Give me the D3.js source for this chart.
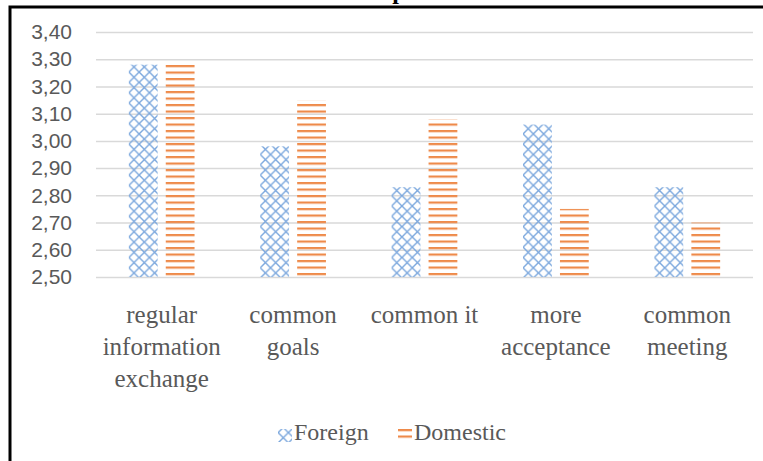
<!DOCTYPE html>
<html>
<head>
<meta charset="utf-8">
<script src="https://cdn.jsdelivr.net/npm/d3@7"></script>
<style>
  body { margin: 0; background: #fff; }
  svg { display: block; }
</style>
</head>
<body>
<div id="chart"></div>
<script>
// data
const categories = [
    ["regular", "information", "exchange"],
    ["common", "goals"],
    ["common it"],
    ["more", "acceptance"],
    ["common", "meeting"]
];
const seriesNames = ["Foreign", "Domestic"];
const foreign = [3.28, 2.98, 2.83, 3.06, 2.83];
const domestic = [3.29, 3.15, 3.08, 2.75, 2.70];
const yTicks = [2.5, 2.6, 2.7, 2.8, 2.9, 3.0, 3.1, 3.2, 3.3, 3.4];

const width = 763, height = 461;
const plotLeft = 96, plotRight = 753, plotTop = 32, plotBottom = 277;

const svg = d3.select("#chart")
    .append("svg")
    .attr("width", width)
    .attr("height", height);

// hatch patterns
const defs = svg.append("defs");

const cross = defs.append("pattern")
    .attr("id", "pat-foreign")
    .attr("patternUnits", "userSpaceOnUse")
    .attr("width", 10.3)
    .attr("height", 10.3);
cross.append("path")
    .attr("d", "M0,0L10.3,10.3M10.3,0L0,10.3")
    .attr("stroke", "#7ba7dd")
    .attr("stroke-width", 1.4)
    .attr("fill", "none");

const stripes = defs.append("pattern")
    .attr("id", "pat-domestic")
    .attr("patternUnits", "userSpaceOnUse")
    .attr("width", 10)
    .attr("height", 6.5);
stripes.append("rect")
    .attr("x", 0)
    .attr("y", 0)
    .attr("width", 10)
    .attr("height", 2.2)
    .attr("fill", "#ee8a4a");

const fills = ["url(#pat-foreign)", "url(#pat-domestic)"];

// frame (the picture is cropped from a bigger bordered figure)
svg.append("rect")
    .attr("x", 10)
    .attr("y", 7)
    .attr("width", 800)
    .attr("height", 500)
    .attr("fill", "none")
    .attr("stroke", "#000")
    .attr("stroke-width", 3);

// only the descender of the title survives the crop
svg.append("text")
    .attr("x", 399)
    .attr("y", -1)
    .attr("text-anchor", "middle")
    .style("font-family", "'Liberation Serif', serif")
    .style("font-weight", "bold")
    .style("font-size", "24px")
    .text("p");

const xScale = d3.scaleBand()
    .domain(d3.range(categories.length))
    .range([plotLeft, plotRight])
    .paddingInner(0.5)
    .paddingOuter(0.25);

const xInner = d3.scaleBand()
    .domain(seriesNames)
    .range([0, xScale.bandwidth()])
    .paddingInner(0.22);

const yScale = d3.scaleLinear()
    .domain([2.5, 3.4])
    .range([plotBottom, plotTop]);

// gridlines + tick labels
const yAxis = svg.append("g")
    .attr("transform", `translate(${plotLeft},0)`)
    .call(d3.axisLeft(yScale)
        .tickValues(yTicks)
        .tickSize(-(plotRight - plotLeft))
        .tickPadding(24)
        .tickFormat(d => d3.format(".2f")(d).replace(".", ",")));
yAxis.select(".domain").remove();
yAxis.selectAll(".tick line")
    .attr("stroke", "#d9d9d9")
    .attr("stroke-width", 1.5);
yAxis.selectAll(".tick text")
    .attr("fill", "#595959")
    .style("font-family", "'Liberation Sans', Arial, sans-serif")
    .style("font-size", "21px");

// bars
const rows = categories.map((c, i) => ({ i, values: [foreign[i], domestic[i]] }));

const groups = svg.selectAll(".group")
    .data(rows)
    .enter()
    .append("g")
    .attr("transform", d => `translate(${xScale(d.i)},0)`);

groups.selectAll("rect")
    .data(d => d.values.map((v, k) => ({ name: seriesNames[k], value: v, k })))
    .enter()
    .append("rect")
    .attr("x", d => xInner(d.name))
    .attr("y", d => yScale(d.value))
    .attr("width", xInner.bandwidth())
    .attr("height", d => yScale(2.5) - yScale(d.value))
    .attr("fill", d => fills[d.k]);

// category labels
const labels = svg.selectAll(".cat")
    .data(categories)
    .enter()
    .append("text")
    .attr("text-anchor", "middle")
    .attr("fill", "#595959")
    .style("font-family", "'Liberation Serif', 'Times New Roman', serif")
    .style("font-size", "25px");

labels.selectAll("tspan")
    .data((d, i) => d.map(line => ({ line, i })))
    .enter()
    .append("tspan")
    .attr("x", d => xScale(d.i) + xScale.bandwidth() / 2)
    .attr("y", (d, j) => 323 + j * 32)
    .text(d => d.line);

// legend
const legendItems = [
    { name: seriesNames[0], x: 278, fill: fills[0] },
    { name: seriesNames[1], x: 398, fill: fills[1] }
];
const legend = svg.selectAll(".legend")
    .data(legendItems)
    .enter()
    .append("g");

legend.append("rect")
    .attr("x", d => d.x)
    .attr("y", 429)
    .attr("width", 14)
    .attr("height", 13)
    .attr("fill", d => d.fill);

legend.append("text")
    .attr("x", d => d.x + 16)
    .attr("y", 440)
    .attr("fill", "#595959")
    .style("font-family", "'Liberation Serif', 'Times New Roman', serif")
    .style("font-size", "24px")
    .text(d => d.name);
</script>
</body>
</html>
